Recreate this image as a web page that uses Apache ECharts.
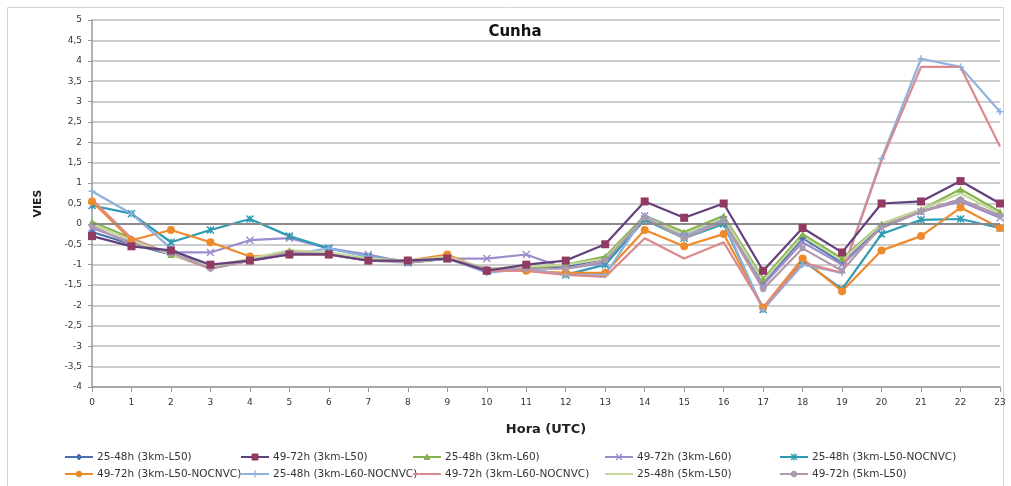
<!DOCTYPE html>
<html>
<head>
<meta charset="utf-8">
<script src="https://cdn.jsdelivr.net/npm/echarts@6/dist/echarts.min.js"></script>
<style>
  html, body { margin: 0; padding: 0; background: #fff; }
  #chart { width: 1011px; height: 486px; }
</style>
</head>
<body>
<div id="chart"></div>
<script>
var hours = ['0','1','2','3','4','5','6','7','8','9','10','11','12','13','14','15','16','17','18','19','20','21','22','23'];

var s25_3km_L50 = [-0.2,-0.5,-0.75,-1.05,-0.9,-0.7,-0.75,-0.85,-0.9,-0.85,-1.15,-1.1,-1.05,-0.85,0.15,-0.25,0.15,-1.45,-0.35,-0.95,-0.05,0.3,0.6,0.2];
var s49_3km_L50 = [-0.3,-0.55,-0.65,-1.0,-0.9,-0.75,-0.75,-0.9,-0.9,-0.85,-1.15,-1.0,-0.9,-0.5,0.55,0.15,0.5,-1.15,-0.1,-0.7,0.5,0.55,1.05,0.5];
var s25_3km_L60 = [0.05,-0.35,-0.75,-1.05,-0.9,-0.65,-0.75,-0.85,-0.9,-0.85,-1.1,-1.1,-1.0,-0.8,0.2,-0.2,0.2,-1.35,-0.25,-0.85,0.0,0.35,0.85,0.3];
var s49_3km_L60 = [-0.1,-0.45,-0.7,-0.7,-0.4,-0.35,-0.6,-0.75,-0.95,-0.85,-0.85,-0.75,-1.1,-0.95,0.2,-0.3,0.1,-1.5,-0.45,-1.0,-0.1,0.3,0.55,0.15];
var s25_3km_L50_noc = [0.45,0.25,-0.45,-0.15,0.12,-0.3,-0.6,-0.8,-0.95,-0.85,-1.15,-1.1,-1.25,-1.0,0.1,-0.35,0.0,-2.1,-0.9,-1.6,-0.25,0.1,0.12,-0.1];
var s49_3km_L50_noc = [0.55,-0.4,-0.15,-0.45,-0.8,-0.75,-0.75,-0.9,-0.9,-0.75,-1.15,-1.15,-1.2,-1.2,-0.15,-0.55,-0.25,-2.05,-0.85,-1.65,-0.65,-0.3,0.4,-0.1];
var s25_3km_L60_noc = [0.8,0.25,-0.6,-1.1,-0.9,-0.75,-0.6,-0.8,-0.95,-0.85,-1.2,-1.1,-1.25,-1.25,0.2,-0.3,0.05,-2.1,-1.0,-1.2,1.6,4.05,3.85,2.75];
var s49_3km_L60_noc = [0.6,-0.35,-0.75,-1.1,-0.9,-0.75,-0.75,-0.9,-0.9,-0.85,-1.15,-1.15,-1.25,-1.3,-0.35,-0.85,-0.45,-2.05,-0.95,-1.2,1.55,3.85,3.85,1.9];
var s25_5km_L50 = [0.0,-0.4,-0.75,-1.05,-0.85,-0.65,-0.7,-0.85,-0.9,-0.8,-1.1,-1.05,-1.0,-0.85,0.15,-0.25,0.15,-1.4,-0.3,-0.9,0.0,0.35,0.75,0.25];
var s49_5km_L50 = [-0.05,-0.5,-0.7,-1.1,-0.9,-0.7,-0.75,-0.9,-0.95,-0.85,-1.1,-1.1,-1.1,-0.9,0.15,-0.35,0.05,-1.6,-0.6,-1.15,-0.05,0.3,0.6,0.2];

var names = ['25-48h (3km-L50)', '49-72h (3km-L50)', '25-48h (3km-L60)', '49-72h (3km-L60)', '25-48h (3km-L50-NOCNVC)',
             '49-72h (3km-L50-NOCNVC)', '25-48h (3km-L60-NOCNVC)', '49-72h (3km-L60-NOCNVC)', '25-48h (5km-L50)', '49-72h (5km-L50)'];
var values = [s25_3km_L50, s49_3km_L50, s25_3km_L60, s49_3km_L60, s25_3km_L50_noc,
              s49_3km_L50_noc, s25_3km_L60_noc, s49_3km_L60_noc, s25_5km_L50, s49_5km_L50];

// estilos de cada serie (linha, marcador)
var lineColors = ['#4a6fb0', '#62407c', '#86b24e', '#9d8ccc', '#2e9ab3', '#ef8a2c', '#8fb1dd', '#d98a8e', '#c4d89c', '#b29aa8'];
var markColors = ['#4a6fb0', '#913a62', '#86b24e', '#9d8ccc', '#2e9ab3', '#ef8a2c', '#8fb1dd', '#d98a8e', '#c4d89c', '#a99ab0'];
var markTypes = ['diamond', 'rect', 'triangle', 'x', 'star', 'circle', 'plus', 'dash', 'none', 'circle'];
var symbolPaths = {
  x: 'path://M0,0L10,10M10,0L0,10',
  star: 'path://M0,0L10,10M10,0L0,10M5,0L5,10',
  plus: 'path://M5,0L5,10M0,5L10,5',
  dash: 'path://M0,5L10,5'
};
var symbolSizes = [7, 8, 7, 7, 7, 8, 7, 7, 0, 6];

var series = names.map(function (n, i) {
  var t = markTypes[i];
  return {
    name: n,
    type: 'line',
    data: values[i],
    symbol: symbolPaths[t] || t,
    symbolSize: symbolSizes[i],
    showSymbol: t !== 'none',
    lineStyle: { color: lineColors[i], width: 2.2 },
    itemStyle: { color: markColors[i], borderColor: markColors[i], borderWidth: symbolPaths[t] ? 1.5 : 0 },
    emphasis: { disabled: true },
    z: i === 1 ? 5 : 3
  };
});

// legenda desenhada à mão: 2 linhas x 5 colunas
var legTextX = [97, 273, 445, 637, 812];
var legRowY = [457, 474];

function legendMarker(t, cx, cy, c) {
  var st = { fill: c, stroke: c, lineWidth: 1 };
  if (t === 'diamond') return [{ type: 'polygon', shape: { points: [[cx, cy - 3], [cx + 3, cy], [cx, cy + 3], [cx - 3, cy]] }, style: st }];
  if (t === 'rect') return [{ type: 'rect', shape: { x: cx - 3, y: cy - 3, width: 6, height: 6 }, style: st }];
  if (t === 'triangle') return [{ type: 'polygon', shape: { points: [[cx, cy - 3], [cx + 3, cy + 2.5], [cx - 3, cy + 2.5]] }, style: st }];
  if (t === 'circle') return [{ type: 'circle', shape: { cx: cx, cy: cy, r: 2.8 }, style: st }];
  var segs = [];
  if (t === 'x' || t === 'star') segs.push([[cx - 3, cy - 3], [cx + 3, cy + 3]], [[cx + 3, cy - 3], [cx - 3, cy + 3]]);
  if (t === 'star' || t === 'plus') segs.push([[cx, cy - 3.5], [cx, cy + 3.5]]);
  if (t === 'plus') segs.push([[cx - 3.5, cy], [cx + 3.5, cy]]);
  if (t === 'dash') segs.push([[cx - 3, cy], [cx + 3, cy]]);
  return segs.map(function (p) { return { type: 'polyline', shape: { points: p }, style: { stroke: c, lineWidth: 1.3, fill: null } }; });
}

var legendGraphics = [];
names.forEach(function (n, i) {
  var tx = legTextX[i % 5], y = legRowY[i < 5 ? 0 : 1];
  legendGraphics.push({ type: 'line', shape: { x1: tx - 32, y1: y, x2: tx - 4, y2: y }, style: { stroke: lineColors[i], lineWidth: 2 }, silent: true });
  legendMarker(markTypes[i], tx - 18, y, markColors[i]).forEach(function (g) { g.silent = true; legendGraphics.push(g); });
  legendGraphics.push({
    type: 'text', x: tx, y: y, silent: true,
    style: { text: n, fill: '#333', font: '10.5px "DejaVu Sans"', verticalAlign: 'middle', align: 'left' }
  });
});

var chart = echarts.init(document.getElementById('chart'), null, { renderer: 'canvas' });
chart.setOption({
  animation: false,
  backgroundColor: '#fff',
  title: {
    text: 'Cunha',
    left: 510,
    top: 20,
    textAlign: 'center',
    textStyle: { fontSize: 15, fontWeight: 'bold', color: '#111', fontFamily: 'DejaVu Sans' }
  },
  graphic: [{
    type: 'rect',
    shape: { x: 7.5, y: 7.5, width: 996, height: 500 },
    style: { fill: 'none', stroke: '#d4d4d4', lineWidth: 1 },
    silent: true
  }].concat(legendGraphics),
  grid: { left: 92, right: 11, top: 20, bottom: 99 },
  xAxis: {
    type: 'category',
    data: hours,
    boundaryGap: false,
    name: 'Hora (UTC)',
    nameLocation: 'middle',
    nameGap: 36,
    nameTextStyle: { fontSize: 13, fontWeight: 'bold', color: '#222', fontFamily: 'DejaVu Sans' },
    axisLine: { onZero: false, lineStyle: { color: '#999', width: 1.5 } },
    axisTick: { show: true, alignWithLabel: true, length: 5, lineStyle: { color: '#999' } },
    axisLabel: { fontSize: 9, color: '#333', margin: 11, fontFamily: 'DejaVu Sans' },
    splitLine: { show: false }
  },
  yAxis: {
    type: 'value',
    min: -4,
    max: 5,
    interval: 0.5,
    name: 'VIES',
    nameLocation: 'middle',
    nameGap: 48,
    nameTextStyle: { fontSize: 11, fontWeight: 'bold', color: '#222', fontFamily: 'DejaVu Sans' },
    axisLine: { show: true, lineStyle: { color: '#999', width: 1.5 } },
    axisTick: { show: true, length: 4, lineStyle: { color: '#999' } },
    axisLabel: {
      fontSize: 9, color: '#333', margin: 10, fontFamily: 'DejaVu Sans',
      formatter: function (v) { return String(v).replace('.', ','); }
    },
    splitLine: { show: true, lineStyle: { color: '#bdbdbd', width: 1.5 } }
  },
  series: series.concat([{
    type: 'line',
    data: [],
    markLine: {
      silent: true,
      symbol: 'none',
      label: { show: false },
      lineStyle: { color: '#8a8a8a', width: 2, type: 'solid' },
      data: [{ yAxis: 0 }]
    },
    z: 1
  }])
});
</script>
</body>
</html>
